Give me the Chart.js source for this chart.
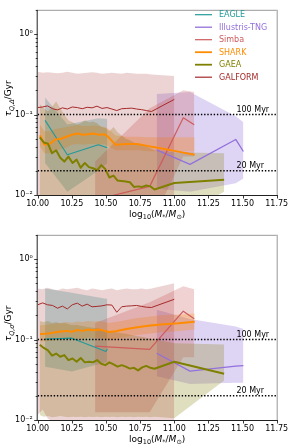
<!DOCTYPE html>
<html><head><meta charset="utf-8">
<script src="https://cdn.jsdelivr.net/npm/chart.js@4/dist/chart.umd.min.js"></script>
<style>
html,body{margin:0;padding:0;background:#fff;}
#wrap{position:relative;width:293px;height:446px;overflow:hidden;}
canvas{position:absolute;left:0;}
</style></head><body>
<div id="wrap">
<canvas id="c1" width="293" height="221" style="top:0;width:293px;height:221px"></canvas>
<canvas id="c2" width="293" height="221" style="top:225px;width:293px;height:221px"></canvas>
</div>
<script>
// ---------------- DATA ----------------
const seriesNames = ['EAGLE','Illustris-TNG','Simba','SHARK','GAEA','GALFORM'];
const xTickValues = [10.00,10.25,10.50,10.75,11.00,11.25,11.50,11.75];
const xTickLabels = ['10.00','10.25','10.50','10.75','11.00','11.25','11.50','11.75'];
const yTickValues = [0.01,0.1,1];
const yTickLabels = ['10\u207B\u00B2','10\u207B\u00B9','10\u2070'];
const refLevels = [0.1,0.02];
const refLabels = ['100 Myr','20 Myr'];

// EAGLE
const eagleXA   = [10.054,10.217,10.444,10.51];
const eagleMedA = [0.0845,0.0316,0.042,0.0386];
const eagleLoA  = [0.025,0.011,0.02,0.025];
const eagleHiA  = [0.163,0.075,0.09,0.088];
const eagleXB   = [10.054,10.25,10.50,10.51];
const eagleMedB = [0.101,0.104,0.071,0.077];
const eagleLoB  = [0.046,0.040,0.052,0.052];
const eagleHiB  = [0.43,0.38,0.32,0.32];

// Illustris-TNG
const tngX    = [10.871,11.115,11.45,11.506];
const tngMedA = [0.0363,0.024,0.049,0.0347];
const tngLoA  = [0.012,0.011,0.014,0.016];
const tngHiA  = [0.18,0.19,0.095,0.08];
const tngMedB = [0.0676,0.0405,0.0466,0.0475];
const tngLoB  = [0.035,0.028,0.029,0.029];
const tngHiB  = [0.235,0.18,0.145,0.135];

// Simba
const simbaX    = [10.42,10.82,11.066,11.146];
const simbaMedA = [0.0087,0.0128,0.091,0.0745];
const simbaLoA  = [0.004,0.004,0.03,0.03];
const simbaHiA  = [0.026,0.12,0.2,0.19];
const simbaMedB = [0.083,0.0756,0.225,0.181];
const simbaLoB  = [0.0125,0.0125,0.06,0.06];
const simbaHiB  = [0.16,0.29,0.46,0.42];

// SHARK
const sharkX    = [10.017,10.05,10.09,10.13,10.17,10.21,10.25,10.29,10.33,10.37,10.41,10.45,10.49,10.52,10.57,10.65,10.73,10.81,10.9,11.03,11.15];
const sharkMedA = [0.055,0.042,0.0435,0.049,0.050,0.053,0.056,0.058,0.056,0.057,0.058,0.056,0.057,0.052,0.042,0.043,0.043,0.0405,0.038,0.0346,0.0316];
const sharkHiA  = [0.075,0.062,0.062,0.066,0.068,0.07,0.072,0.074,0.072,0.072,0.073,0.072,0.07,0.066,0.055,0.053,0.053,0.052,0.052,0.052,0.052];
const sharkLoA  = [0.04,0.033,0.033,0.036,0.037,0.039,0.042,0.043,0.042,0.043,0.043,0.042,0.043,0.04,0.036,0.036,0.036,0.035,0.035,0.035,0.035];
const sharkMedB = [0.117,0.118,0.12,0.123,0.126,0.128,0.125,0.131,0.128,0.133,0.130,0.133,0.128,0.124,0.127,0.135,0.142,0.148,0.154,0.159,0.166];
const sharkHiB  = [0.15,0.152,0.155,0.158,0.162,0.165,0.162,0.168,0.165,0.17,0.168,0.17,0.165,0.16,0.165,0.175,0.185,0.192,0.2,0.205,0.21];
const sharkLoB  = [0.094,0.095,0.096,0.098,0.1,0.102,0.1,0.104,0.102,0.106,0.104,0.106,0.102,0.1,0.102,0.108,0.114,0.118,0.123,0.127,0.133];

// GAEA
const gaeaX    = [10.015,10.045,10.075,10.105,10.135,10.165,10.195,10.225,10.255,10.285,10.315,10.345,10.375,10.405,10.435,10.465,10.495,10.525,10.555,10.585,10.615,10.645,10.675,10.705,10.735,10.765,10.795,10.825,10.855,11.0,11.365];
const gaeaMedA = [0.052,0.045,0.0435,0.033,0.036,0.029,0.026,0.030,0.025,0.0275,0.0218,0.025,0.0222,0.0215,0.0203,0.0235,0.021,0.0165,0.0174,0.0151,0.0149,0.0147,0.0144,0.0126,0.0128,0.0126,0.0131,0.0128,0.0117,0.0141,0.0155];
const gaeaHiA  = [0.135,0.12,0.11,0.125,0.145,0.12,0.10,0.085,0.08,0.075,0.078,0.085,0.08,0.082,0.078,0.07,0.068,0.062,0.07,0.06,0.055,0.05,0.048,0.045,0.043,0.042,0.04,0.038,0.036,0.034,0.033];
const gaeaLoA  = [0.006,0.006,0.006,0.006,0.006,0.006,0.006,0.006,0.006,0.006,0.006,0.006,0.006,0.006,0.006,0.006,0.006,0.006,0.006,0.006,0.006,0.006,0.006,0.006,0.006,0.006,0.006,0.006,0.006,0.005,0.011];
const gaeaMedB = [0.086,0.0785,0.0735,0.063,0.067,0.061,0.064,0.0555,0.058,0.053,0.059,0.052,0.053,0.052,0.0556,0.050,0.048,0.052,0.049,0.046,0.048,0.046,0.0435,0.0445,0.0413,0.045,0.047,0.0445,0.0433,0.053,0.0376];
const gaeaHiB  = [0.17,0.165,0.17,0.16,0.165,0.158,0.16,0.155,0.15,0.152,0.148,0.145,0.142,0.14,0.138,0.135,0.13,0.128,0.125,0.122,0.12,0.118,0.115,0.112,0.11,0.108,0.105,0.103,0.1,0.09,0.087];
const gaeaLoB  = [0.0115,0.011,0.0112,0.0108,0.011,0.0112,0.011,0.0108,0.011,0.0109,0.011,0.0108,0.011,0.0109,0.011,0.0108,0.011,0.0109,0.011,0.0108,0.011,0.0109,0.011,0.0108,0.011,0.0109,0.011,0.0108,0.011,0.0105,0.031];

// GALFORM
const galX    = [10.000,10.036,10.072,10.109,10.145,10.181,10.217,10.253,10.290,10.326,10.362,10.398,10.434,10.471,10.507,10.543,10.579,10.615,10.652,10.688,10.724,10.760,10.796,10.833,11.000];
const galMedA = [0.122,0.124,0.128,0.118,0.114,0.121,0.117,0.124,0.122,0.118,0.123,0.121,0.127,0.119,0.122,0.117,0.112,0.118,0.119,0.120,0.117,0.115,0.112,0.109,0.154];
const galHiA  = [0.34,0.33,0.335,0.33,0.325,0.33,0.34,0.33,0.32,0.325,0.33,0.335,0.33,0.32,0.325,0.33,0.325,0.32,0.33,0.325,0.32,0.32,0.32,0.315,0.30];
const galLoA  = [0.0095,0.009,0.008,0.007,0.007,0.007,0.007,0.007,0.007,0.007,0.007,0.007,0.007,0.007,0.007,0.007,0.007,0.007,0.007,0.007,0.007,0.007,0.007,0.007,0.007];
const galMedB = [0.27,0.285,0.27,0.265,0.245,0.26,0.24,0.27,0.283,0.26,0.275,0.255,0.258,0.262,0.27,0.268,0.218,0.255,0.26,0.262,0.265,0.258,0.252,0.25,0.316];
const galHiB  = [0.43,0.42,0.44,0.42,0.41,0.43,0.42,0.43,0.44,0.42,0.41,0.43,0.42,0.41,0.42,0.43,0.41,0.42,0.43,0.42,0.42,0.43,0.42,0.43,0.50];
const galLoB  = [0.0115,0.0135,0.0105,0.0095,0.009,0.009,0.009,0.009,0.009,0.009,0.009,0.009,0.009,0.009,0.009,0.009,0.009,0.009,0.009,0.009,0.009,0.009,0.009,0.009,0.009];

// ---------------- STYLE ----------------
const STYLE = {
  'EAGLE':         {c:'#229a9a', band:'rgba(34,154,154,0.28)', w:1.1},
  'Illustris-TNG': {c:'#9370db', band:'rgba(147,112,219,0.30)', w:1.3},
  'Simba':         {c:'#cd5c5c', band:'rgba(205,92,92,0.28)', w:1.2},
  'SHARK':         {c:'#ff8c00', band:'rgba(255,140,0,0.25)', w:2},
  'GAEA':          {c:'#808000', band:'rgba(128,128,0,0.25)', w:2},
  'GALFORM':       {c:'#a52a2a', band:'rgba(165,42,42,0.20)', w:1}
};
const FONT = 'DejaVu Sans';

const panelA = {
  'EAGLE':{x:eagleXA,med:eagleMedA,lo:eagleLoA,hi:eagleHiA},
  'Illustris-TNG':{x:tngX,med:tngMedA,lo:tngLoA,hi:tngHiA},
  'Simba':{x:simbaX,med:simbaMedA,lo:simbaLoA,hi:simbaHiA},
  'SHARK':{x:sharkX,med:sharkMedA,lo:sharkLoA,hi:sharkHiA},
  'GAEA':{x:gaeaX,med:gaeaMedA,lo:gaeaLoA,hi:gaeaHiA},
  'GALFORM':{x:galX,med:galMedA,lo:galLoA,hi:galHiA}
};
const panelB = {
  'EAGLE':{x:eagleXB,med:eagleMedB,lo:eagleLoB,hi:eagleHiB},
  'Illustris-TNG':{x:tngX,med:tngMedB,lo:tngLoB,hi:tngHiB},
  'Simba':{x:simbaX,med:simbaMedB,lo:simbaLoB,hi:simbaHiB},
  'SHARK':{x:sharkX,med:sharkMedB,lo:sharkLoB,hi:sharkHiB},
  'GAEA':{x:gaeaX,med:gaeaMedB,lo:gaeaLoB,hi:gaeaHiB},
  'GALFORM':{x:galX,med:galMedB,lo:galLoB,hi:galHiB}
};

const X_MIN = xTickValues[0], X_MAX = xTickValues[xTickValues.length-1];
const Y_MIN = 0.01, Y_MAX = 2;

function pts(x, y){ return x.map((v,i)=>({x:v, y:y[i]})); }

function buildDatasets(panel){
  const ds = [];
  seriesNames.forEach((name,i)=>{
    const s = panel[name], st = STYLE[name];
    ds.push({label:name+'_hi', data:pts(s.x,s.hi), borderWidth:0, borderColor:'rgba(0,0,0,0)',
      pointRadius:0, backgroundColor:st.band, fill:'+1', order:20-i});
    ds.push({label:name+'_lo', data:pts(s.x,s.lo), borderWidth:0, borderColor:'rgba(0,0,0,0)',
      pointRadius:0, fill:false, order:20-i});
  });
  seriesNames.forEach((name,i)=>{
    const s = panel[name], st = STYLE[name];
    ds.push({label:name, data:pts(s.x,s.med), borderColor:st.c, borderWidth:st.w,
      pointRadius:0, fill:false, order:8-i, borderJoinStyle:'round'});
  });
  refLevels.forEach(v=>{
    ds.push({label:'ref'+v, data:[{x:X_MIN,y:v},{x:X_MAX,y:v}], borderColor:'#000', borderWidth:1.4,
      borderDash:[1.4,1.8], pointRadius:0, fill:false, order:0});
  });
  return ds;
}

function drawRuns(ctx, runs, cx, cy){
  let total = 0;
  runs.forEach(r=>{ ctx.font = r.f; r.w = ctx.measureText(r.t).width; total += r.w; });
  let x = cx - total/2;
  runs.forEach(r=>{ ctx.font = r.f; ctx.fillText(r.t, x, cy + (r.dy||0)); x += r.w; });
}

function decor(opts){
  return {
    id:'decor'+opts.id,
    afterDraw(chart){
      const ctx = chart.ctx, ca = chart.chartArea, xs = chart.scales.x, ys = chart.scales.y;
      ctx.save();
      // spines
      ctx.lineWidth = 1;
      ctx.strokeStyle = '#999';
      ctx.beginPath();
      ctx.moveTo(ca.left, ca.top+0.5); ctx.lineTo(ca.right, ca.top+0.5);
      ctx.moveTo(ca.right+0.5, ca.top); ctx.lineTo(ca.right+0.5, ca.bottom);
      ctx.stroke();
      ctx.strokeStyle = '#222';
      ctx.beginPath();
      ctx.moveTo(ca.left-0.5, ca.top); ctx.lineTo(ca.left-0.5, ca.bottom+0.5);
      ctx.moveTo(ca.left-0.5, ca.bottom+0.5); ctx.lineTo(ca.right+1, ca.bottom+0.5);
      ctx.stroke();
      // ticks
      ctx.lineWidth = 0.9;
      ctx.beginPath();
      xTickValues.forEach(v=>{
        const px = Math.round(xs.getPixelForValue(v))+0.5;
        ctx.moveTo(px, ca.bottom); ctx.lineTo(px, ca.bottom+3.5);
      });
      for(let k=-2;k<=0;k++){
        for(let m=1;m<=9;m++){
          const v = m*Math.pow(10,k);
          if (v > Y_MAX) break;
          const py = Math.round(ys.getPixelForValue(v))+0.5;
          const len = m===1 ? 3.5 : 2;
          ctx.moveTo(ca.left-len, py); ctx.lineTo(ca.left, py);
        }
      }
      ctx.stroke();
      // reference labels
      ctx.fillStyle = '#000';
      ctx.font = '8px "'+FONT+'"';
      ctx.textAlign = 'left'; ctx.textBaseline = 'alphabetic';
      refLevels.forEach((v,i)=>{
        ctx.fillText(refLabels[i], xs.getPixelForValue(11.455), ys.getPixelForValue(v)-2.5);
      });
      // x title
      ctx.fillStyle = '#000';
      const big = '9px "'+FONT+'"', bigI = 'italic 9px "'+FONT+'"', small = '6.5px "'+FONT+'"';
      drawRuns(ctx, [
        {t:'log', f:big}, {t:'10', f:small, dy:2.5}, {t:'(', f:big}, {t:'M', f:bigI},
        {t:'*', f:small, dy:2.5}, {t:'/', f:big}, {t:'M', f:bigI}, {t:'\u2299', f:small, dy:2.5}, {t:')', f:big}
      ], (ca.left+ca.right)/2, 216.5);
      // y title (rotated)
      ctx.save();
      ctx.translate(11, (ca.top+ca.bottom)/2 - 4);
      ctx.rotate(-Math.PI/2);
      drawRuns(ctx, [
        {t:'\u03C4', f:bigI}, {t:opts.sub, f:'italic 6.5px "'+FONT+'"', dy:2.5}, {t:'/Gyr', f:big}
      ], 0, 0);
      ctx.restore();
      // legend
      if (opts.legend){
        ctx.font = '8px "'+FONT+'"';
        ctx.textBaseline = 'middle';
        seriesNames.forEach((name,i)=>{
          const y = 14.7 + i*12.5, st = STYLE[name];
          ctx.strokeStyle = st.c; ctx.lineWidth = Math.max(1.2, Math.min(st.w,1.8));
          ctx.beginPath(); ctx.moveTo(195, y); ctx.lineTo(212, y); ctx.stroke();
          ctx.fillStyle = st.c;
          ctx.fillText(name, 219, y+0.5);
        });
      }
      ctx.restore();
    }
  };
}

function makeChart(id, panel, opts){
  return new Chart(document.getElementById(id), {
    type:'line',
    data:{datasets:buildDatasets(panel)},
    options:{
      responsive:false, animation:false, devicePixelRatio:1,
      layout:{padding:{top:4,right:16.3,left:0,bottom:0}, autoPadding:false},
      plugins:{legend:{display:false}, tooltip:{enabled:false}},
      elements:{line:{tension:0}},
      scales:{
        x:{type:'linear', min:X_MIN, max:X_MAX,
          afterFit:s=>{ s.height = 26; },
          grid:{display:false, drawTicks:false, tickLength:0}, border:{display:false},
          ticks:{stepSize:0.25, autoSkip:false, maxRotation:0, padding:4,
            font:{family:FONT, size:8}, color:'#000',
            callback:(v)=>{ const i = xTickValues.findIndex(t=>Math.abs(t-v)<1e-6); return i>=0 ? xTickLabels[i] : ''; }}
        },
        y:{type:'logarithmic', min:Y_MIN, max:Y_MAX,
          afterFit:s=>{ s.width = 37.7; },
          grid:{display:false, drawTicks:false, tickLength:0}, border:{display:false},
          ticks:{autoSkip:false, padding:5, font:{family:FONT, size:8}, color:'#000',
            callback:(v)=>{ const i = yTickValues.findIndex(t=>Math.abs(Math.log10(t)-Math.log10(v))<1e-6); return i>=0 ? yTickLabels[i] : ''; }}
        }
      }
    },
    plugins:[decor(opts)]
  });
}

makeChart('c1', panelA, {id:1, legend:true, sub:'Q,\u0394'});
makeChart('c2', panelB, {id:2, legend:false, sub:'Q,\u03C3'});
</script>
</body></html>
